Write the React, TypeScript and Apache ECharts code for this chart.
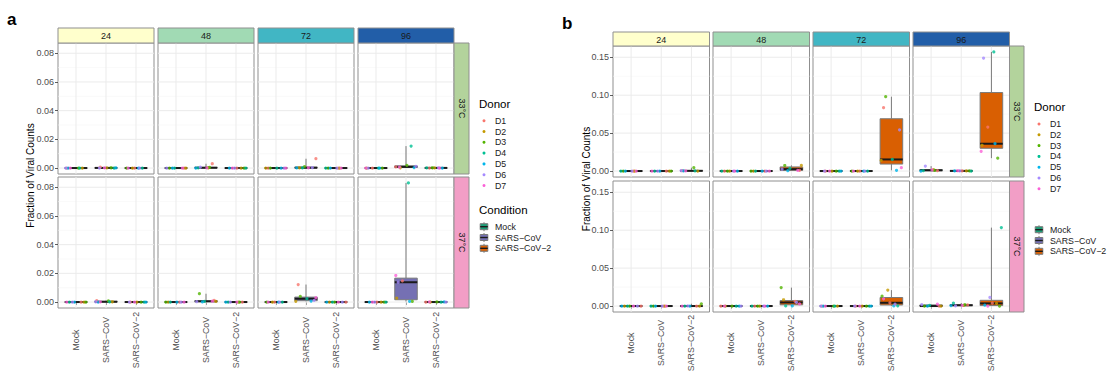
import React, { useEffect, useRef } from "react";
import * as echarts from "echarts";

const FONT = '"Liberation Sans", Arial, Helvetica, sans-serif';

const DONORS = ["D1", "D2", "D3", "D4", "D5", "D6", "D7"];
const DONOR_COLORS = ["#F8766D", "#C49A00", "#53B400", "#00C094", "#00B6EB", "#A58AFF", "#FB61D7"];
const CONDITIONS = ["Mock", "SARS\u2212CoV", "SARS\u2212CoV\u22122"];
const COND_COLORS = ["#1B9E77", "#7570B3", "#D95F02"];
const TIMES = ["24", "48", "72", "96"];
const TIME_COLORS = ["#FFFFCC", "#A1DAB4", "#41B6C4", "#225EA8"];
const TEMPS = ["33\u00B0C", "37\u00B0C"];
const TEMP_COLORS = ["#B3D39C", "#F29EC6"];

const A_TICKS = [0, 0.02, 0.04, 0.06, 0.08];
const A_MINOR = [0.01, 0.03, 0.05, 0.07];
const B_TICKS = [0, 0.05, 0.1, 0.15];
const B_MINOR = [0.025, 0.075, 0.125];

// horizontal jitter offsets (category units)
const JITTER = [-0.31, 0.12, -0.19, 0.27, -0.05, 0.21, -0.26, 0.03, 0.33, -0.12, 0.08, -0.34, 0.17, -0.22];

// Panel a — each facet: [Mock, SARS-CoV, SARS-CoV-2], values for donors D1..D7
const A33_24 = [
  [0, 0, 0, 0, 0, 0, 0],
  [0.0006, 0.0001, 0.0002, 0, 0.0001, 0, 0.0001],
  [0, 0, 0, 0, 0, 0, 0],
];
const A33_48 = [
  [0, 0, 0, 0, 0, 0, 0],
  [0.003, 0.0002, 0.0004, 0.0001, 0, 0.0006, 0.0001],
  [0, 0, 0, 0, 0, 0, 0],
];
const A33_72 = [
  [0, 0, 0, 0, 0, 0, 0],
  [0.0065, 0.0002, 0.001, 0.0001, 0.0001, 0.0003, 0.0002],
  [0, 0, 0, 0, 0, 0, 0],
];
const A33_96 = [
  [0, 0, 0, 0, 0, 0, 0],
  [0.0008, 0.0002, 0.0019, 0.0153, 0.0003, 0.0012, 0.0006],
  [0, 0.0001, 0.0002, 0.0001, 0, 0.0001, 0],
];
const A37_24 = [
  [0, 0, 0, 0, 0, 0, 0],
  [0.001, 0.0002, 0.0008, 0.0001, 0, 0.0002, 0.0001],
  [0, 0, 0, 0, 0, 0, 0],
];
const A37_48 = [
  [0, 0, 0, 0, 0, 0, 0],
  [0.0012, 0.0004, 0.0058, 0.0005, 0.0001, 0.0003, 0.0006],
  [0, 0, 0, 0, 0, 0, 0],
];
const A37_72 = [
  [0, 0, 0, 0, 0, 0, 0],
  [0.0122, 0.0005, 0.0039, 0.0023, 0.0007, 0.0012, 0.003],
  [0, 0, 0, 0, 0, 0, 0],
];
const A37_96 = [
  [0, 0, 0, 0, 0, 0, 0],
  [0.0148, 0.0028, 0.0004, 0.083, 0.0004, 0.0138, 0.0185],
  [0, 0, 0.0001, 0, 0.0001, 0, 0.0001],
];

// Panel b
const B33_24 = [
  [0, 0, 0, 0, 0, 0, 0],
  [0, 0, 0, 0, 0, 0, 0],
  [0.0005, 0, 0.0044, 0.0003, 0.0002, 0.0006, 0.0001],
];
const B33_48 = [
  [0, 0, 0, 0, 0, 0, 0],
  [0, 0, 0, 0, 0, 0, 0],
  [0.001, 0.0075, 0.0073, 0.0035, 0.0005, 0.0025, 0.0008],
];
const B33_72 = [
  [0, 0, 0, 0, 0, 0, 0],
  [0, 0, 0, 0, 0, 0, 0],
  [0.0835, 0.014, 0.098, 0.0153, 0.001, 0.0544, 0.0044],
];
const B33_96 = [
  [0.0005, 0.002, 0.001, 0.0005, 0, 0.0065, 0.0015],
  [0.0003, 0.0002, 0.0001, 0, 0.0001, 0.0002, 0.0004],
  [0.058, 0.034, 0.017, 0.157, 0.036, 0.149, 0.026],
];
const B37_24 = [
  [0, 0, 0, 0, 0, 0, 0],
  [0, 0, 0, 0, 0, 0, 0],
  [0, 0, 0.003, 0, 0, 0.0001, 0],
];
const B37_48 = [
  [0, 0, 0, 0, 0, 0, 0],
  [0, 0, 0, 0, 0, 0, 0],
  [0.0062, 0.0083, 0.0243, 0.0002, 0.0001, 0.0048, 0.003],
];
const B37_72 = [
  [0, 0, 0, 0, 0, 0, 0],
  [0, 0, 0, 0, 0, 0, 0],
  [0.0043, 0.021, 0.013, 0.0003, 0.0002, 0.0024, 0.0095],
];
const B37_96 = [
  [0, 0, 0, 0.001, 0, 0.002, 0.0025],
  [0.0015, 0.0008, 0.002, 0.004, 0.0005, 0.0003, 0.001],
  [0.0038, 0.0035, 0, 0.1034, 0.0012, 0.0113, 0],
];

const PANEL_A = [
  [A33_24, A33_48, A33_72, A33_96],
  [A37_24, A37_48, A37_72, A37_96],
];
const PANEL_B = [
  [B33_24, B33_48, B33_72, B33_96],
  [B37_24, B37_48, B37_72, B37_96],
];

const LAYOUT: any[] = [
  {
    label: "a", labelX: 7, labelY: 19, left: 58, colW: 96, step: 100,
    stripTop: 28, stripH: 15, rowTop: [43, 177], rowH: 131, sideW: 15,
    titleX: 30, xLabelMargin: 32, ticks: A_TICKS, minor: A_MINOR,
    legendX: 479, donorTitleY: 104, donorY0: 120.7, condTitleY: 210, condY0: 226.7,
  },
  {
    label: "b", labelX: 562, labelY: 23, left: 613, colW: 96.5, step: 100,
    stripTop: 32, stripH: 14, rowTop: [46, 181], rowH: 131, sideW: 14.5,
    titleX: 586, xLabelMargin: 31, ticks: B_TICKS, minor: B_MINOR,
    legendX: 1034, donorTitleY: 107, donorY0: 124, condTitleY: null, condY0: 229.7,
  },
];

const BORDER = "#8f8f8f";
const BOX_LINE = "#7a7a7a";

function quant(s: number[], p: number) {
  const h = (s.length - 1) * p;
  const lo = Math.floor(h);
  const hi = Math.min(lo + 1, s.length - 1);
  return s[lo] + (h - lo) * (s[hi] - s[lo]);
}
function boxStats(vals: number[]) {
  const s = [...vals].sort((a, b) => a - b);
  return [s[0], quant(s, 0.25), quant(s, 0.5), quant(s, 0.75), s[s.length - 1]];
}

function textEl(x: number, y: number, text: string, size: number, extra: any = {}, styleExtra: any = {}) {
  return {
    type: "text", x, y, silent: true, ...extra,
    style: {
      text, fill: "#1a1a1a", fontSize: size, fontFamily: FONT,
      textAlign: "center", textVerticalAlign: "middle", ...styleExtra,
    },
  };
}

function buildOption() {
  const grid: any[] = [];
  const xAxis: any[] = [];
  const yAxis: any[] = [];
  const series: any[] = [];
  const graphic: any[] = [];

  [PANEL_A, PANEL_B].forEach((facets, pi) => {
    const L = LAYOUT[pi];
    const dmax = Math.max(...(facets as any).flat(3));
    const yMin = -0.05 * dmax;
    const yMax = 1.05 * dmax;

    facets.forEach((rowFacets, r) => {
      rowFacets.forEach((facet, c) => {
        const g = grid.length;
        const left = L.left + c * L.step;
        const top = L.rowTop[r];
        const bottomRow = r === 1;
        const firstCol = c === 0;
        grid.push({
          left, top, width: L.colW, height: L.rowH, show: true,
          borderColor: BORDER, borderWidth: 1, backgroundColor: "#ffffff", containLabel: false,
        });
        xAxis.push({
          type: "value", gridIndex: g, min: 0.4, max: 3.6,
          axisLine: { show: false }, splitLine: { show: false },
          axisTick: { show: bottomRow, customValues: [1, 2, 3], length: 3, lineStyle: { color: "#333", width: 0.8 } },
          axisLabel: {
            show: bottomRow, customValues: [1, 2, 3], rotate: 90, align: "center", verticalAlign: "middle",
            margin: L.xLabelMargin, fontSize: 8.8, color: "#4d4d4d", fontFamily: FONT,
            formatter: (v: number) => CONDITIONS[Math.round(v) - 1] ?? "",
          },
        });
        yAxis.push({
          type: "value", gridIndex: g, min: yMin, max: yMax,
          axisLine: { show: false }, splitLine: { show: false },
          axisTick: { show: firstCol, customValues: L.ticks, length: 3, lineStyle: { color: "#333", width: 0.8 } },
          axisLabel: {
            show: firstCol, customValues: L.ticks, margin: 4, fontSize: 9, color: "#4d4d4d", fontFamily: FONT,
            formatter: (v: number) => v.toFixed(2),
          },
        });

        // grid lines
        const glData = [
          ...L.ticks.map((t: number) => [0, t]),
          ...L.minor.map((t: number) => [1, t]),
          ...[1, 2, 3].map((x) => [2, x]),
        ];
        series.push({
          type: "custom", xAxisIndex: g, yAxisIndex: g, z: 1, silent: true, data: glData,
          renderItem: (params: any, api: any) => {
            const kind = api.value(0);
            const v = api.value(1);
            const cs = params.coordSys;
            if (kind === 2) {
              const x = api.coord([v, 0])[0];
              return { type: "line", shape: { x1: x, y1: cs.y, x2: x, y2: cs.y + cs.height }, style: { stroke: "#ebebeb", lineWidth: 1 } };
            }
            const y = api.coord([1, v])[1];
            return {
              type: "line", shape: { x1: cs.x, y1: y, x2: cs.x + cs.width, y2: y },
              style: { stroke: kind === 0 ? "#ebebeb" : "#f5f5f5", lineWidth: kind === 0 ? 1 : 0.6 },
            };
          },
        });

        // boxes
        const boxData = facet.map((vals: number[], ci: number) => [ci + 1, ...boxStats(vals), ci]);
        series.push({
          type: "custom", xAxisIndex: g, yAxisIndex: g, z: 2, silent: true,
          dimensions: ["x", "lo", "q1", "med", "q3", "hi", "c"],
          encode: { x: 0, y: [1, 2, 3, 4, 5] },
          data: boxData,
          renderItem: (params: any, api: any) => {
            const xv = api.value(0);
            const vals = [1, 2, 3, 4, 5].map((i) => api.value(i));
            const ci = api.value(6);
            const cx = api.coord([xv, vals[2]])[0];
            const hw = api.size([0.375, 0])[0];
            const [yLo, yQ1, yMed, yQ3, yHi] = vals.map((v) => api.coord([xv, v])[1]);
            return {
              type: "group",
              children: [
                { type: "line", shape: { x1: cx, y1: yHi, x2: cx, y2: yQ3 }, style: { stroke: BOX_LINE, lineWidth: 1 } },
                { type: "line", shape: { x1: cx, y1: yQ1, x2: cx, y2: yLo }, style: { stroke: BOX_LINE, lineWidth: 1 } },
                {
                  type: "rect", shape: { x: cx - hw, y: yQ3, width: 2 * hw, height: Math.max(yQ1 - yQ3, 0) },
                  style: { fill: COND_COLORS[ci], stroke: BOX_LINE, lineWidth: 1 },
                },
                { type: "line", shape: { x1: cx - hw, y1: yMed, x2: cx + hw, y2: yMed }, style: { stroke: "#1a1a1a", lineWidth: 2 } },
              ],
            };
          },
        });

        // jittered points
        const fi = pi * 8 + r * 4 + c;
        const pts: any[] = [];
        facet.forEach((vals: number[], ci: number) => {
          vals.forEach((v, d) => {
            const j = JITTER[(d * 5 + fi * 3 + ci * 2) % JITTER.length];
            pts.push({ value: [ci + 1 + j, v], itemStyle: { color: DONOR_COLORS[d] } });
          });
        });
        series.push({
          type: "scatter", xAxisIndex: g, yAxisIndex: g, z: 3, silent: true,
          symbol: "circle", symbolSize: 3.2, data: pts,
        });
      });
    });

    // top strips
    TIMES.forEach((t, c) => {
      const x = L.left + c * L.step;
      graphic.push({
        type: "rect", silent: true, z: 10,
        shape: { x, y: L.stripTop, width: L.colW, height: L.stripH },
        style: { fill: TIME_COLORS[c], stroke: BORDER, lineWidth: 1 },
      });
      graphic.push({ ...textEl(x + L.colW / 2, L.stripTop + L.stripH / 2 + 0.5, t, 9), z: 11 });
    });
    // side strips
    TEMPS.forEach((t, r) => {
      const x = L.left + 3 * L.step + L.colW;
      graphic.push({
        type: "rect", silent: true, z: 10,
        shape: { x, y: L.rowTop[r], width: L.sideW, height: L.rowH },
        style: { fill: TEMP_COLORS[r], stroke: BORDER, lineWidth: 1 },
      });
      graphic.push({ ...textEl(x + L.sideW / 2, L.rowTop[r] + L.rowH / 2, t, 9, { rotation: -Math.PI / 2 }), z: 11 });
    });

    // panel label
    graphic.push(textEl(L.labelX, L.labelY, L.label, 17, {}, { textAlign: "left", fontWeight: "bold", fill: "#000" }));
    // y title
    const midY = (L.rowTop[0] + L.rowTop[1] + L.rowH) / 2;
    graphic.push(textEl(L.titleX, midY, "Fraction of Viral Counts", 10, { rotation: Math.PI / 2 }, { fill: "#000" }));

    // legends
    const lx = L.legendX;
    graphic.push(textEl(lx, L.donorTitleY, "Donor", 11.5, {}, { textAlign: "left", fill: "#000" }));
    DONORS.forEach((d, i) => {
      const y = L.donorY0 + i * 10.8;
      graphic.push({ type: "circle", silent: true, shape: { cx: lx + 5, cy: y, r: 1.5 }, style: { fill: DONOR_COLORS[i] } });
      graphic.push(textEl(lx + 16, y, d, 8.8, {}, { textAlign: "left" }));
    });
    if (L.condTitleY) {
      graphic.push(textEl(lx, L.condTitleY, "Condition", 11.5, {}, { textAlign: "left", fill: "#000" }));
    }
    CONDITIONS.forEach((cname, i) => {
      const y = L.condY0 + i * 10.8;
      const kx = lx + 5;
      graphic.push({ type: "line", silent: true, shape: { x1: kx, y1: y - 4.5, x2: kx, y2: y + 4.5 }, style: { stroke: BOX_LINE, lineWidth: 1 } });
      graphic.push({
        type: "rect", silent: true, shape: { x: kx - 3.8, y: y - 3, width: 7.6, height: 6 },
        style: { fill: COND_COLORS[i], stroke: BOX_LINE, lineWidth: 1 },
      });
      graphic.push({ type: "line", silent: true, shape: { x1: kx - 3.8, y1: y, x2: kx + 3.8, y2: y }, style: { stroke: "#1a1a1a", lineWidth: 1.4 } });
      graphic.push(textEl(lx + 16, y, cname, 8.8, {}, { textAlign: "left" }));
    });
  });

  return {
    animation: false,
    backgroundColor: "#ffffff",
    textStyle: { fontFamily: FONT },
    grid, xAxis, yAxis, series, graphic,
  };
}

export default function App() {
  const ref = useRef<HTMLDivElement>(null);
  useEffect(() => {
    if (!ref.current) return;
    const chart = echarts.init(ref.current, null, { renderer: "svg" });
    chart.setOption(buildOption() as any);
    return () => chart.dispose();
  }, []);
  return (
    <div
      ref={ref}
      style={{ position: "fixed", left: 0, top: 0, width: 1110, height: 383, background: "#fff" }}
    />
  );
}
